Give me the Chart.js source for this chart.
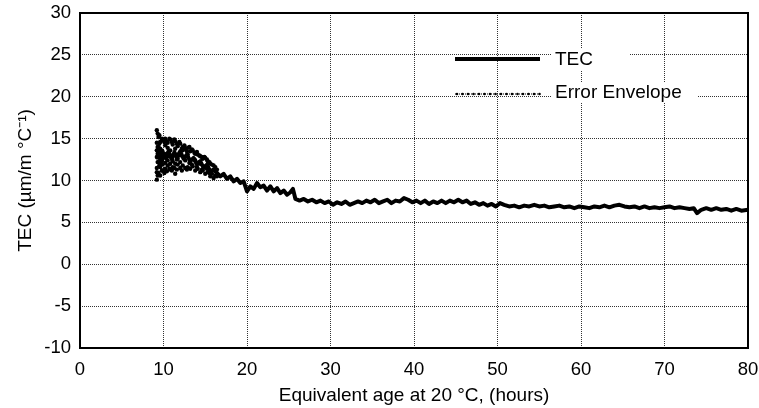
<!DOCTYPE html>
<html>
<head>
<meta charset="utf-8">
<script src="https://cdn.jsdelivr.net/npm/chart.js@4.4.1/dist/chart.umd.min.js"></script>
<style>
    html, body { margin: 0; padding: 0; background: #fff; }
    #wrap { width: 759px; height: 408px; }
</style>
</head>
<body>
<div id="wrap"><canvas id="tec-chart" width="759" height="408"></canvas></div>
<script>
// 数据
const tecX = [9.3, 9.5, 9.7, 10.0, 10.3, 10.6, 11.0, 11.3, 11.6, 12.0, 12.4, 12.8, 13.2, 13.6, 14.0, 14.4, 14.8, 15.2, 15.6, 16.0,
    16.4, 16.8, 17.2, 17.6, 18.0, 18.4, 18.8, 19.2, 19.6, 20.0, 20.4, 20.8, 21.2, 21.6, 22.0, 22.4, 22.8, 23.2, 23.6, 24.0,
    24.4, 24.8, 25.2, 25.5, 25.8, 26.3, 26.8, 27.3, 27.8, 28.3, 28.8, 29.3, 29.8, 30.3, 30.8, 31.3, 31.8, 32.3, 32.8, 33.3,
    33.8, 34.3, 34.8, 35.3, 35.8, 36.3, 36.8, 37.3, 37.8, 38.3, 38.8, 39.3, 39.8, 40.3, 40.8, 41.3, 41.8, 42.3, 42.8, 43.3,
    43.8, 44.3, 44.8, 45.3, 45.8, 46.3, 46.8, 47.3, 47.8, 48.3, 48.8, 49.3, 49.8, 50.3, 50.8, 51.4, 52, 52.6, 53.2, 53.8,
    54.4, 55, 55.6, 56.2, 56.8, 57.4, 58, 58.6, 59.2, 59.8, 60.4, 61, 61.6, 62.2, 62.8, 63.4, 64, 64.6, 65.2, 65.8,
    66.4, 67, 67.6, 68.2, 68.8, 69.4, 70, 70.6, 71.2, 71.8, 72.4, 73, 73.5, 73.9, 74.4, 75, 75.6, 76.2, 76.8, 77.4,
    78, 78.6, 79.2, 80];
const tecY = [12.5, 13.6, 12.0, 13.2, 12.6, 13.5, 12.5, 13.4, 12.8, 13.5, 12.6, 13.1, 12.3, 12.7, 11.9, 12.3, 11.5, 11.9, 11.1, 11.3,
    10.9, 10.5, 10.8, 10.2, 10.5, 9.9, 10.2, 9.7, 9.9, 8.7, 9.3, 9.0, 9.7, 9.2, 9.4, 8.8, 9.3, 8.7, 9.1, 8.5,
    8.8, 8.3, 8.6, 9.0, 7.8, 7.6, 7.8, 7.5, 7.7, 7.4, 7.6, 7.3, 7.5, 7.1, 7.4, 7.2, 7.5, 7.1, 7.3, 7.5,
    7.3, 7.6, 7.4, 7.7, 7.3, 7.5, 7.7, 7.3, 7.6, 7.5, 7.9, 7.7, 7.4, 7.6, 7.3, 7.6, 7.2, 7.5, 7.3, 7.6,
    7.3, 7.6, 7.4, 7.7, 7.4, 7.6, 7.2, 7.4, 7.1, 7.3, 7.0, 7.2, 6.9, 7.3, 7.1, 6.9, 7.0, 6.8, 7.0, 6.9,
    7.1, 6.9, 7.0, 6.8, 6.9, 7.0, 6.8, 6.9, 6.7, 6.9, 6.8, 6.7, 6.9, 6.8, 7.0, 6.8, 7.0, 7.1, 6.9, 6.8,
    6.9, 6.7, 6.9, 6.7, 6.8, 6.7, 6.8, 6.9, 6.7, 6.8, 6.7, 6.6, 6.7, 6.1, 6.5, 6.7, 6.5, 6.7, 6.5, 6.6,
    6.4, 6.6, 6.4, 6.5];

// 误差包络散点
const envX = [9.2, 9.2, 9.2, 9.2, 9.2, 9.2, 9.2, 9.3, 9.3, 9.3, 9.3, 9.3, 9.4, 9.4, 9.4, 9.4, 9.4, 9.5, 9.5, 9.5,
    9.6, 9.6, 9.6, 9.6, 9.6, 9.8, 9.8, 9.8, 9.8, 9.9, 9.9, 9.9, 9.9, 10.1, 10.1, 10.1, 10.2, 10.2, 10.2, 10.2,
    10.4, 10.4, 10.4, 10.5, 10.5, 10.5, 10.5, 10.7, 10.7, 10.7, 10.8, 10.8, 10.8, 10.8, 11.0, 11.0, 11.0, 11.1, 11.1, 11.1,
    11.3, 11.3, 11.3, 11.4, 11.4, 11.4, 11.4, 11.6, 11.6, 11.6, 11.7, 11.7, 11.7, 11.9, 11.9, 12.0, 12.0, 12.0, 12.2, 12.2,
    12.3, 12.3, 12.3, 12.5, 12.5, 12.6, 12.6, 12.6, 12.8, 12.8, 12.9, 12.9, 12.9, 13.1, 13.1, 13.2, 13.2, 13.2, 13.4, 13.4,
    13.5, 13.5, 13.7, 13.7, 13.8, 13.8, 13.8, 14.0, 14.0, 14.1, 14.1, 14.3, 14.3, 14.4, 14.4, 14.4, 14.6, 14.6, 14.7, 14.7,
    14.9, 14.9, 15.0, 15.0, 15.2, 15.2, 15.3, 15.3, 15.5, 15.5, 15.6, 15.6, 15.8, 15.8, 16.0, 16.0, 16.2, 16.2, 16.4, 16.4];
const envY = [10.1, 11.5, 12.8, 14.5, 16.0, 13.6, 11.0, 15.6, 12.2, 10.6, 14.0, 13.2, 15.2, 14.0, 12.2, 10.9, 13.0, 15.4, 11.8, 14.4,
    14.6, 11.6, 12.6, 13.8, 10.6, 15.0, 12.4, 11.2, 13.6, 14.8, 13.4, 11.9, 11.2, 14.6, 12.8, 10.9, 15.0, 12.1, 14.2, 11.4,
    14.7, 13.2, 11.1, 14.5, 11.8, 13.9, 12.4, 15.0, 12.9, 11.4, 14.9, 12.0, 11.3, 13.6, 14.6, 12.7, 11.2, 14.3, 11.6, 12.3,
    14.9, 13.1, 11.5, 14.7, 12.0, 13.8, 10.8, 14.4, 12.5, 11.3, 14.1, 11.9, 12.6, 14.6, 13.0, 14.4, 12.2, 11.5, 13.8, 11.2,
    14.0, 11.8, 13.6, 14.2, 12.7, 13.8, 11.5, 12.4, 13.5, 11.3, 13.9, 11.6, 13.1, 14.0, 12.1, 13.5, 11.4, 12.1, 13.7, 11.9,
    13.6, 11.7, 13.3, 12.5, 13.2, 11.2, 12.4, 13.4, 11.6, 13.1, 11.4, 13.0, 12.2, 12.9, 11.0, 12.0, 12.8, 11.3, 12.6, 11.2,
    12.8, 11.6, 12.7, 10.8, 12.5, 11.4, 12.3, 11.0, 12.2, 10.9, 12.0, 10.5, 11.9, 10.8, 11.8, 10.3, 11.6, 10.6, 11.3, 10.5];

const xTicks = [0, 10, 20, 30, 40, 50, 60, 70, 80];
const yTicks = [-10, -5, 0, 5, 10, 15, 20, 25, 30];

const tecPoints = tecX.map((x, i) => ({ x: x, y: tecY[i] }));
const envPoints = envX.map((x, i) => ({ x: x, y: envY[i] }));

const FONT = 'Liberation Sans, Arial, Helvetica, sans-serif';

// 边框 + 图例
const framePlugin = {
    id: 'frame',
    afterDraw(chart) {
        const ctx = chart.ctx;
        const a = chart.chartArea;
        ctx.save();
        ctx.strokeStyle = '#000';
        ctx.lineWidth = 2;
        ctx.strokeRect(a.left, a.top, a.right - a.left, a.bottom - a.top);

        // 图例文字背景
        ctx.fillStyle = '#fff';
        ctx.fillRect(552, 49, 78, 21);
        ctx.fillRect(552, 82, 146, 21);

        // TEC 样例
        ctx.strokeStyle = '#000';
        ctx.lineWidth = 4;
        ctx.beginPath();
        ctx.moveTo(455, 59);
        ctx.lineTo(540, 59);
        ctx.stroke();

        // Error Envelope 样例
        ctx.lineWidth = 1;
        ctx.setLineDash([1, 1]);
        ctx.beginPath();
        ctx.moveTo(455, 94);
        ctx.lineTo(540, 94);
        ctx.stroke();
        ctx.setLineDash([]);
        ctx.fillStyle = '#000';
        for (let x = 457; x <= 540; x += 5.5) {
            ctx.beginPath();
            ctx.arc(x, 94, 1.3, 0, Math.PI * 2);
            ctx.fill();
        }

        ctx.font = '19px ' + FONT;
        ctx.textBaseline = 'middle';
        ctx.textAlign = 'left';
        ctx.fillText('TEC', 555, 60);
        ctx.fillText('Error Envelope', 555, 93);
        ctx.restore();
    }
};

const gridStyle = {
    color: '#333',
    lineWidth: 1,
    drawTicks: false
};

new Chart(document.getElementById('tec-chart').getContext('2d'), {
    type: 'scatter',
    data: {
        datasets: [{
            label: 'Error Envelope',
            data: envPoints,
            showLine: false,
            pointRadius: 2.2,
            pointBackgroundColor: '#000',
            pointBorderWidth: 0
        }, {
            label: 'TEC',
            data: tecPoints,
            showLine: true,
            borderColor: '#000',
            borderWidth: 4,
            borderJoinStyle: 'round',
            pointRadius: 0,
            tension: 0
        }]
    },
    options: {
        responsive: false,
        animation: false,
        layout: { padding: { top: 13, right: 11, left: 0, bottom: 0 } },
        plugins: {
            legend: { display: false },
            tooltip: { enabled: false }
        },
        scales: {
            x: {
                type: 'linear',
                min: 0,
                max: 80,
                afterBuildTicks: axis => { axis.ticks = xTicks.map(v => ({ value: v })); },
                afterFit: axis => {
                    axis.height = 60;
                    axis.paddingLeft = 0;
                    axis.paddingRight = 0;
                },
                grid: gridStyle,
                border: { display: false, dash: [1, 1] },
                ticks: { color: '#000', font: { size: 18.5, family: FONT }, padding: 11, maxRotation: 0 },
                title: {
                    display: true,
                    text: 'Equivalent age at 20 °C, (hours)',
                    color: '#000',
                    font: { size: 19, family: FONT },
                    padding: { top: 0, bottom: 1 }
                }
            },
            y: {
                type: 'linear',
                min: -10,
                max: 30,
                afterBuildTicks: axis => { axis.ticks = yTicks.map(v => ({ value: v })); },
                afterFit: axis => {
                    axis.width = 80;
                    axis.paddingTop = 0;
                    axis.paddingBottom = 0;
                },
                grid: gridStyle,
                border: { display: false, dash: [1, 1] },
                ticks: { color: '#000', font: { size: 18.5, family: FONT }, padding: 9 },
                title: {
                    display: true,
                    text: 'TEC (µm/m °C⁻¹)',
                    color: '#000',
                    font: { size: 19, family: FONT },
                    padding: { top: 14, bottom: 0 }
                }
            }
        }
    },
    plugins: [framePlugin]
});
</script>
</body>
</html>
